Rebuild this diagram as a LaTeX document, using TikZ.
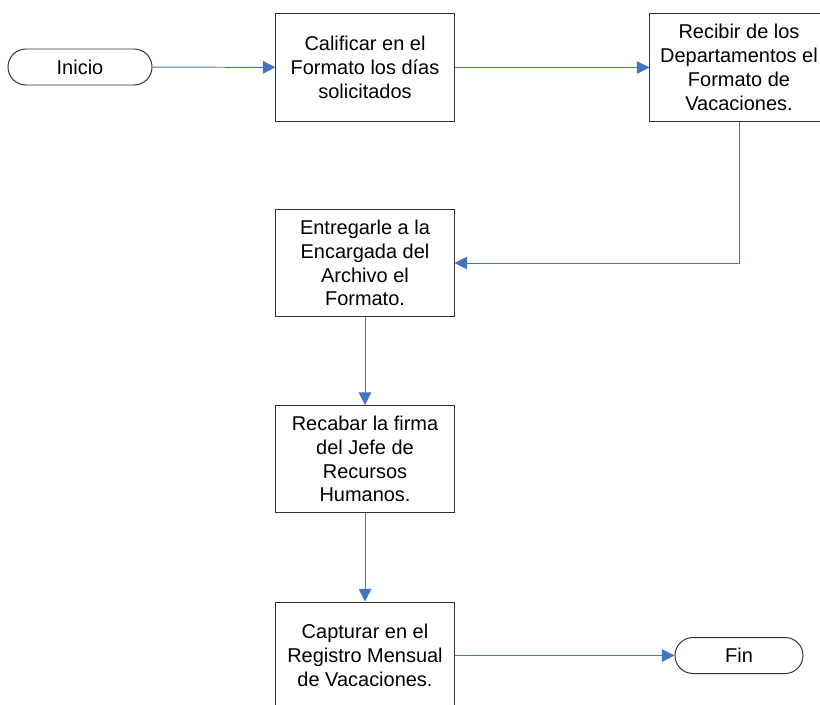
\documentclass[tikz,border=0pt]{standalone}
\usepackage{fontspec}
\setmainfont{Liberation Sans}
\usetikzlibrary{arrows.meta,shapes.misc}
\definecolor{flujo}{RGB}{68,114,196}

\begin{document}
\begin{tikzpicture}[x=0.025cm, y=-0.025cm,
                            every node/.style={font=\fontsize{14.2}{16.9}\selectfont, align=center, inner sep=0pt},
                            paso/.style={draw=black!80, line width=0.7pt, minimum width=4.45cm, minimum height=2.675cm},
                            terminal/.style={draw=black!80, line width=0.7pt, rounded rectangle, minimum height=0.9cm},
                            flecha/.style={draw=flujo, line width=0.7pt, -{Triangle[length=9pt, width=9pt]}}]
                            \clip (0,0) rectangle (820,704);

                            \node[terminal, minimum width=3.6cm] (inicio) at (80,67) {Inicio};
                            \node[paso] (califica) at (365,67.5) {Calificar en el\\Formato los días\\solicitados};
                            \node[paso] (recibir) at (739,67.5) {Recibir de los\\Departamentos el\\Formato de\\Vacaciones.};
                            \node[paso] (entregar) at (365,263) {Entregarle a la\\Encargada del\\Archivo el\\Formato.};
                            \node[paso] (recabar) at (365,459) {Recabar la firma\\del Jefe de\\Recursos\\Humanos.};
                            \node[paso] (capturar) at (365,655.5) {Capturar en el\\Registro Mensual\\de Vacaciones.};
                            \node[terminal, minimum width=3.2cm] (fin) at (739,655.5) {Fin};

                            \draw[flecha] (inicio) -- (califica);
                            \draw[flecha] (califica) -- (recibir);
                            \draw[flecha] (recibir.south) |- (entregar.east);
                            \draw[flecha] (entregar) -- (recabar);
                            \draw[flecha] (recabar) -- (capturar);
                            \draw[flecha] (capturar) -- (fin);
                        \end{tikzpicture}
\end{document}
